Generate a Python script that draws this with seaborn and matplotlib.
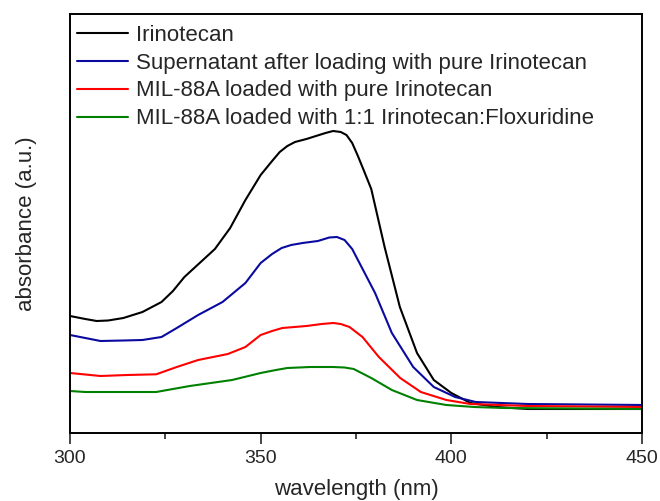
import numpy as np
import pandas as pd
import seaborn as sns
import matplotlib
matplotlib.use('Agg')
import matplotlib.pyplot as plt
from matplotlib.ticker import MultipleLocator

# 讀圖估計的吸收光譜 (任意單位)
labels = ['Irinotecan',
          'Supernatant after loading with pure Irinotecan',
          'MIL-88A loaded with pure Irinotecan',
          'MIL-88A loaded with 1:1 Irinotecan:Floxuridine']
colors = ['#000000', '#0a0aa0', '#ff0000', '#008000']

wl_black = [300, 304, 307, 310, 314, 319, 324, 327, 330, 334, 338, 342, 346, 350, 353, 355, 357, 359, 362, 364.5, 367, 369, 371, 372.5, 374, 375.5, 377, 379, 382.5, 386.5, 391, 395.4, 400, 405, 412, 420, 450]
ab_black = [117, 114, 112, 112.5, 115, 121, 131, 142, 156, 170, 184, 205, 233, 258, 272, 281, 287, 291, 294, 297, 300, 302, 301, 298, 290, 277, 263, 244, 186, 126, 80, 53, 40, 30, 26, 24, 24]

wl_blue = [300, 304, 308, 314, 319, 324, 328, 333.6, 340, 346, 350, 353, 355.5, 358, 361, 365, 368, 370, 372, 374, 375.5, 380, 384.4, 390, 395.4, 401, 406.4, 420, 450]
ab_blue = [98, 95, 92, 92.5, 93, 96, 105, 118, 131, 150, 170, 179, 185, 188, 190, 192, 195.5, 196, 193, 184, 173, 140, 100, 66, 46, 36, 31, 29, 28]

wl_red = [300, 304, 308, 315, 322.6, 328, 333.6, 341.4, 346, 350, 353, 355.7, 362, 366, 369, 371, 373.3, 375, 376.7, 381, 386.6, 392, 398.7, 405, 420, 450]
ab_red = [60, 58.5, 57, 58, 58.7, 66, 73, 79, 86, 98, 102, 105, 107, 109, 110, 109, 106, 101, 96, 76, 55, 41, 33, 29, 27, 26]

wl_green = [300, 304, 312, 322.6, 331.4, 342.5, 350, 354, 357, 363, 369, 372, 374.4, 379, 384.4, 391, 398.7, 406, 414, 450]
ab_green = [42, 41, 41, 41, 47, 53, 60, 63, 65, 66, 66, 65.5, 64, 55, 43, 33, 28, 26, 25, 24]

wl_all = [wl_black, wl_blue, wl_red, wl_green]
ab_all = [ab_black, ab_blue, ab_red, ab_green]

frames = []
for lab, w, a in zip(labels, wl_all, ab_all):
    frames.append(pd.DataFrame({'wavelength': w, 'absorbance': a, 'sample': lab}))
df = pd.concat(frames, ignore_index=True)

sns.set_style('ticks')
plt.rcParams['font.family'] = ['Liberation Sans', 'DejaVu Sans']

fig = plt.figure(figsize=(6.6, 5.01), dpi=100)
ax = fig.add_axes([70 / 660, 1 - 433 / 501, 572 / 660, 419 / 501])

sns.lineplot(data=df, x='wavelength', y='absorbance', hue='sample',
             palette=dict(zip(labels, colors)), hue_order=labels,
             sort=False, estimator=None, linewidth=1.5, ax=ax)

ax.set_xlim(300, 450)
ax.set_ylim(0, 419)
ax.xaxis.set_major_locator(MultipleLocator(50))
ax.xaxis.set_minor_locator(MultipleLocator(25))
ax.set_yticks([])
ax.tick_params(axis='x', which='major', direction='out', length=8, width=1.2, labelsize=14, pad=4)
ax.tick_params(axis='x', which='minor', direction='out', length=4, width=1.2)
for s in ax.spines.values():
    s.set_linewidth(1.4)
    s.set_color('black')

ax.set_xlabel('wavelength (nm)', fontsize=16, labelpad=9)
ax.set_ylabel('absorbance (a.u.)', fontsize=16, labelpad=24)

ax.legend(loc='upper left', frameon=False, fontsize=16, handlelength=2.3,
          handletextpad=0.36, labelspacing=0.31, borderpad=0.3, borderaxespad=0,
          bbox_to_anchor=(0.0, 1 - 4 / 419))

fig.savefig('out.png', dpi=100)
